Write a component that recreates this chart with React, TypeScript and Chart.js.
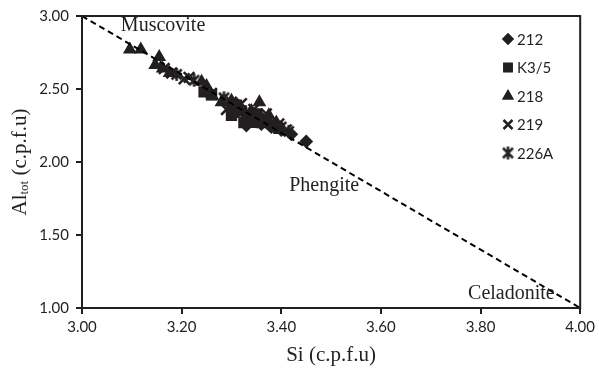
import React, { useEffect, useRef } from 'react';
import { Chart, registerables } from 'chart.js';
import { drawPoint } from 'chart.js/helpers';

Chart.register(...registerables);

// ---------------- data ----------------
const seriesNames = ['212', 'K3/5', '218', '219', '226A'];

const si212 = [3.45, 3.40, 3.38, 3.36, 3.34, 3.42, 3.33];
const al212 = [2.14, 2.22, 2.24, 2.26, 2.29, 2.19, 2.25];

const siK35 = [3.245, 3.26, 3.30, 3.305, 3.32, 3.33, 3.345, 3.36, 3.37, 3.385, 3.395, 3.31, 3.35, 3.30, 3.325];
const alK35 = [2.48, 2.46, 2.37, 2.34, 2.35, 2.32, 2.30, 2.27, 2.28, 2.25, 2.23, 2.39, 2.33, 2.32, 2.27];

const si218 = [3.096, 3.118, 3.155, 3.147, 3.162, 3.176, 3.24, 3.25, 3.262, 3.30, 3.315, 3.356, 3.34, 3.375, 3.39, 3.36, 3.28, 3.35];
const al218 = [2.77, 2.77, 2.72, 2.665, 2.64, 2.61, 2.55, 2.52, 2.45, 2.42, 2.38, 2.41, 2.35, 2.32, 2.27, 2.30, 2.41, 2.26];

const si219 = [3.165, 3.18, 3.205, 3.215, 3.26, 3.30, 3.32, 3.345, 3.37, 3.395, 3.41, 3.29];
const al219 = [2.64, 2.61, 2.57, 2.58, 2.47, 2.41, 2.40, 2.36, 2.33, 2.26, 2.22, 2.36];

const si226A = [3.19, 3.225, 3.285, 3.31, 3.335, 3.355, 3.38, 3.40, 3.415];
const al226A = [2.60, 2.56, 2.44, 2.37, 2.33, 2.30, 2.26, 2.24, 2.21];

// reference line Muscovite -> Celadonite
const refSi = [3.0, 4.0];
const refAl = [3.0, 1.0];

const xMin = 3.0, xMax = 4.0, xStep = 0.2;
const yMin = 1.0, yMax = 3.0, yStep = 0.5;

const annotationTexts = ['Muscovite', 'Phengite', 'Celadonite'];
const annotationSi = [3.078, 3.416, 3.775];
const annotationAl = [2.932, 1.837, 1.095];

const xTitle = 'Si (c.p.f.u)';
const yTitleMain = 'Al';
const yTitleSub = 'tot';
const yTitleRest = ' (c.p.f.u)';

const INK = '#231f20';

function makeStar(): HTMLCanvasElement {
  const c = document.createElement('canvas');
  c.width = 15; c.height = 15;
  const g = c.getContext('2d')!;
  g.strokeStyle = INK;
  g.lineWidth = 2.5;
  g.beginPath();
  g.moveTo(2.5, 2.5); g.lineTo(12.5, 12.5);
  g.moveTo(12.5, 2.5); g.lineTo(2.5, 12.5);
  g.moveTo(7.5, 1); g.lineTo(7.5, 14);
  g.stroke();
  return c;
}

function pts(xs: number[], ys: number[]) {
  return xs.map((x, i) => ({ x, y: ys[i] }));
}

export default function App() {
  const ref = useRef<HTMLCanvasElement>(null);

  useEffect(() => {
    const star = makeStar();
    const styles: any[] = [
      { pointStyle: 'rectRot', radius: 7, borderWidth: 0 },
      { pointStyle: 'rect', radius: 8, borderWidth: 0 },
      { pointStyle: 'triangle', radius: 8, borderWidth: 0 },
      { pointStyle: 'crossRot', radius: 7.5, borderWidth: 2.5 },
      { pointStyle: star, radius: 7.5, borderWidth: 2.5 },
    ];
    const seriesData = [
      pts(si212, al212),
      pts(siK35, alK35),
      pts(si218, al218),
      pts(si219, al219),
      pts(si226A, al226A),
    ];

    const deco = {
      id: 'deco',
      afterDraw(chart: any) {
        const { ctx, chartArea: ca, scales } = chart;
        const xs = scales.x, ys = scales.y;
        ctx.save();
        // plot frame
        ctx.strokeStyle = INK;
        ctx.lineWidth = 2;
        ctx.strokeRect(ca.left, ca.top, ca.right - ca.left, ca.bottom - ca.top);

        // annotations
        ctx.fillStyle = INK;
        ctx.font = '20px "Liberation Serif"';
        ctx.textAlign = 'left';
        ctx.textBaseline = 'middle';
        annotationTexts.forEach((t, i) => {
          ctx.fillText(t, xs.getPixelForValue(annotationSi[i]), ys.getPixelForValue(annotationAl[i]));
        });

        // legend
        const lx = 508, ly0 = 39, dy = 28.5;
        seriesNames.forEach((name, i) => {
          const y = ly0 + i * dy;
          ctx.fillStyle = INK;
          ctx.strokeStyle = INK;
          const s = styles[i];
          ctx.lineWidth = s.borderWidth || 1;
          drawPoint(ctx, { pointStyle: s.pointStyle, radius: s.radius * 0.85, rotation: 0, borderWidth: s.borderWidth }, lx, y);
          if (!s.borderWidth) ctx.fill();
          ctx.font = '15px Lato';
          ctx.textAlign = 'left';
          ctx.textBaseline = 'middle';
          ctx.fillText(name, lx + 9, y + 1);
        });

        // x title
        ctx.fillStyle = INK;
        ctx.font = '21px "Liberation Serif"';
        ctx.textAlign = 'center';
        ctx.textBaseline = 'middle';
        ctx.fillText(xTitle, (ca.left + ca.right) / 2, 355);

        // y title with subscript
        ctx.save();
        ctx.translate(20, (ca.top + ca.bottom) / 2);
        ctx.rotate(-Math.PI / 2);
        ctx.textAlign = 'left';
        ctx.textBaseline = 'middle';
        ctx.font = '21px "Liberation Serif"';
        const w1 = ctx.measureText(yTitleMain).width;
        const w3 = ctx.measureText(yTitleRest).width;
        ctx.font = '13px "Liberation Serif"';
        const w2 = ctx.measureText(yTitleSub).width;
        const total = w1 + w2 + w3;
        let x0 = -total / 2;
        ctx.font = '21px "Liberation Serif"';
        ctx.fillText(yTitleMain, x0, 0);
        x0 += w1;
        ctx.font = '13px "Liberation Serif"';
        ctx.fillText(yTitleSub, x0, 5);
        x0 += w2;
        ctx.font = '21px "Liberation Serif"';
        ctx.fillText(yTitleRest, x0, 0);
        ctx.restore();

        ctx.restore();
      },
    };

    const datasets: any[] = [
      {
        label: 'ref',
        type: 'line',
        data: pts(refSi, refAl),
        borderColor: '#000',
        borderWidth: 2,
        borderDash: [6, 4],
        pointRadius: 0,
        showLine: true,
        fill: false,
        order: 0,
      },
      ...seriesNames.map((name, i) => ({
        label: name,
        data: seriesData[i],
        pointStyle: styles[i].pointStyle,
        pointRadius: styles[i].radius,
        pointBorderWidth: styles[i].borderWidth,
        backgroundColor: INK,
        borderColor: INK,
        order: 1,
      })),
    ];

    const chart = new Chart(ref.current!, {
      type: 'scatter',
      data: { datasets },
      options: {
        responsive: false,
        animation: false,
        layout: { padding: { top: 14, right: 13, left: 0, bottom: 0 } },
        plugins: { legend: { display: false }, tooltip: { enabled: false } },
        scales: {
          x: {
            type: 'linear',
            min: xMin,
            max: xMax,
            afterFit: (s: any) => { s.height = 63; },
            border: { display: false },
            grid: { display: true, drawOnChartArea: false, drawTicks: true, tickLength: 6, color: INK, lineWidth: 2 },
            ticks: {
              stepSize: xStep,
              padding: 4,
              color: INK,
              font: { family: 'Lato', size: 15 },
              maxRotation: 0,
              callback: (v: any) => Number(v).toFixed(2),
            },
          },
          y: {
            type: 'linear',
            min: yMin,
            max: yMax,
            afterFit: (s: any) => { s.width = 82; },
            border: { display: false },
            grid: { display: true, drawOnChartArea: false, drawTicks: true, tickLength: 6, color: INK, lineWidth: 2 },
            ticks: {
              stepSize: yStep,
              padding: 7,
              color: INK,
              font: { family: 'Lato', size: 15 },
              callback: (v: any) => Number(v).toFixed(2),
            },
          },
        },
      },
      plugins: [deco],
    });
    return () => chart.destroy();
  }, []);

  return (
    <div style={{ position: 'fixed', left: 0, top: 0, width: 599, height: 371, background: '#fff' }}>
      <canvas ref={ref} width={599} height={371} style={{ display: 'block' }} />
    </div>
  );
}
